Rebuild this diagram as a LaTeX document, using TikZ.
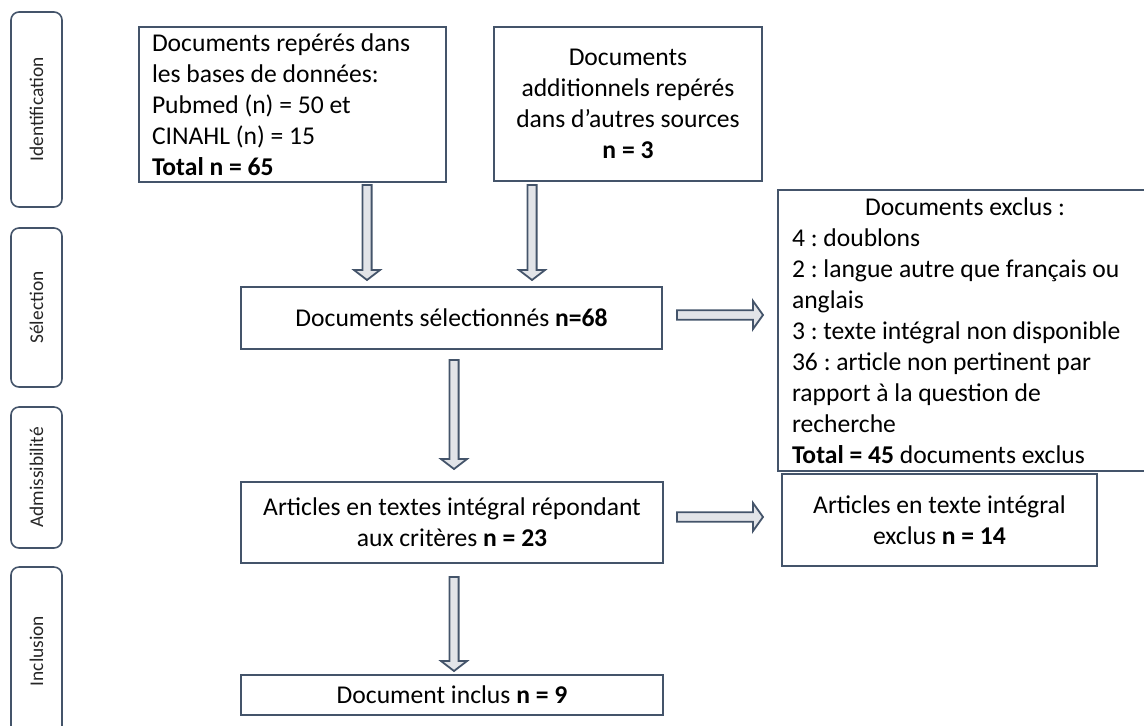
\documentclass[tikz,border=0pt]{standalone}
\usepackage{fontspec}
\setmainfont{Carlito}
\frenchspacing
\usetikzlibrary{calc}
\definecolor{edgec}{RGB}{68,84,106}
\definecolor{arrowc}{RGB}{226,228,232}
\tikzset{
	phase/.style={draw=edgec, line width=0.8pt, rounded corners=4pt, rotate=90, minimum height=25.5pt, inner sep=0pt, font=\fontsize{9.7}{11}\selectfont, text=black!85},
	box/.style={draw=edgec, line width=1pt, inner sep=0pt, font=\fontsize{12.8}{15.5}\selectfont},
	blockdown/.style={draw=edgec, fill=arrowc, line width=0.9pt, to path={let \p1=(\tikztostart), \p2=(\tikztotarget) in
		(\x1-2.3pt,\y1) -- (\x1-2.3pt,\y2+5pt) -- (\x1-6.5pt,\y2+5pt) -- (\x2,\y2) -- (\x1+6.5pt,\y2+5pt) -- (\x1+2.3pt,\y2+5pt) -- (\x1+2.3pt,\y1) -- cycle}},
	blockright/.style={draw=edgec, fill=arrowc, line width=0.9pt, to path={let \p1=(\tikztostart), \p2=(\tikztotarget) in
		(\x1,\y1-2.4pt) -- (\x2-5pt,\y1-2.4pt) -- (\x2-5pt,\y1-7pt) -- (\x2,\y2) -- (\x2-5pt,\y1+7pt) -- (\x2-5pt,\y1+2.4pt) -- (\x1,\y1+2.4pt) -- cycle}}
}
\begin{document}
\begin{tikzpicture}[x=0.5pt,y=-0.5pt]
	\clip (0,0) rectangle (1144,725);

	% phases
	\node[phase, minimum width=97.5pt] (lident) at (36.5,109.5) {Identification};
	\node[phase, minimum width=79.5pt] (lselec) at (36.5,307.5) {Sélection};
	\node[phase, minimum width=70.5pt] (ladmis) at (36.5,477.5) {Admissibilité};
	\node[phase, minimum width=84pt] (lincl) at (36.5,651) {Inclusion};

	% boxes
	\node[box, minimum width=153.5pt, minimum height=77.5pt, text width=140.5pt, align=flush left] (ident) at (292.5,104.5) {Documents repérés dans\\ les bases de données:\\ Pubmed (n) = 50 et\\ CINAHL (n) = 15\\ \textbf{Total n = 65}};
	\node[box, minimum width=134pt, minimum height=77pt, align=center] (autres) at (628,104) {Documents\\ additionnels repérés\\ dans d’autres sources\\ \textbf{n = 3}};
	\node[box, minimum width=210.5pt, minimum height=31pt] (selec) at (451.5,318) {Documents sélectionnés \textbf{n=68}};
	\node[box, minimum width=187pt, minimum height=140.5pt, text width=173pt, align=flush left] (exclus) at (965,330.5) {\hbox to \hsize{\hss Documents exclus :\hss}\\ 4 : doublons\\ 2 : langue autre que français ou\\ anglais\\ 3 : texte intégral non disponible\\ 36 : article non pertinent par\\ rapport à la question de\\ recherche\\ \textbf{Total = 45} documents exclus};
	\node[box, minimum width=211pt, minimum height=40.5pt, align=center] (articles) at (452,522.5) {Articles en textes intégral répondant\\ aux critères \textbf{n = 23}};
	\node[box, minimum width=157.5pt, minimum height=46pt, align=center] (artexcl) at (939.5,520) {Articles en texte intégral\\ exclus \textbf{n = 14}};
	\node[box, minimum width=211pt, minimum height=20pt] (inclus) at (452,695) {Document inclus \textbf{n = 9}};

	% arrows
	\coordinate (d1a) at (367,185); \coordinate (d1b) at (367,280);
	\coordinate (d2a) at (532,185); \coordinate (d2b) at (532,280);
	\coordinate (d3a) at (454,360); \coordinate (d3b) at (454,469);
	\coordinate (d4a) at (454,577); \coordinate (d4b) at (454,671);
	\coordinate (r1a) at (677,315); \coordinate (r1b) at (763,315);
	\coordinate (r2a) at (677,517); \coordinate (r2b) at (763,517);
	\draw[blockdown] (d1a) to (d1b);
	\draw[blockdown] (d2a) to (d2b);
	\draw[blockdown] (d3a) to (d3b);
	\draw[blockdown] (d4a) to (d4b);
	\draw[blockright] (r1a) to (r1b);
	\draw[blockright] (r2a) to (r2b);
\end{tikzpicture}
\end{document}
